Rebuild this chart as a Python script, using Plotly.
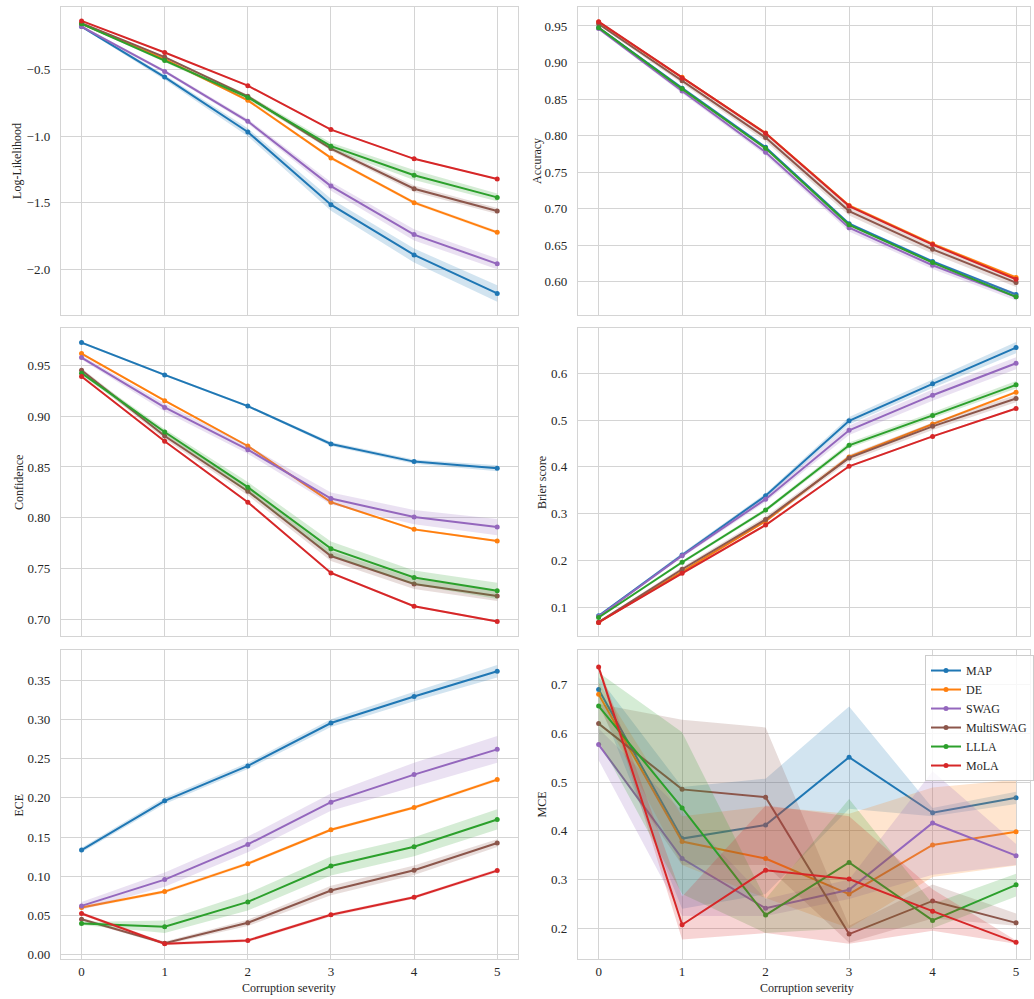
import plotly.graph_objects as go
from plotly.subplots import make_subplots

# ---------------- data ----------------
SEVERITY = [0, 1, 2, 3, 4, 5]
METHODS = ["MAP", "DE", "SWAG", "MultiSWAG", "LLLA", "MoLA"]
COLORS = {"MAP": "#1f77b4", "DE": "#ff7f0e", "SWAG": "#9467bd",
          "MultiSWAG": "#8c564b", "LLLA": "#2ca02c", "MoLA": "#d62728"}

# Log-likelihood
LL_MEAN = {
    "MAP": [-0.175, -0.555, -0.968, -1.515, -1.893, -2.182],
    "DE": [-0.155, -0.420, -0.730, -1.163, -1.500, -1.723],
    "SWAG": [-0.175, -0.513, -0.888, -1.375, -1.740, -1.960],
    "MultiSWAG": [-0.150, -0.405, -0.700, -1.093, -1.395, -1.563],
    "LLLA": [-0.155, -0.430, -0.708, -1.075, -1.293, -1.460],
    "MoLA": [-0.133, -0.370, -0.620, -0.950, -1.170, -1.322],
}
LL_LO = {
    "MAP": [-0.185, -0.575, -1.000, -1.560, -1.950, -2.245],
    "DE": [-0.160, -0.428, -0.740, -1.175, -1.512, -1.735],
    "SWAG": [-0.182, -0.525, -0.905, -1.410, -1.785, -2.000],
    "MultiSWAG": [-0.155, -0.412, -0.712, -1.110, -1.420, -1.585],
    "LLLA": [-0.160, -0.440, -0.725, -1.100, -1.330, -1.490],
    "MoLA": [-0.137, -0.375, -0.625, -0.956, -1.176, -1.328],
}
LL_HI = {
    "MAP": [-0.165, -0.540, -0.940, -1.470, -1.845, -2.120],
    "DE": [-0.150, -0.412, -0.720, -1.152, -1.488, -1.711],
    "SWAG": [-0.168, -0.500, -0.870, -1.345, -1.700, -1.920],
    "MultiSWAG": [-0.145, -0.398, -0.688, -1.076, -1.370, -1.540],
    "LLLA": [-0.150, -0.420, -0.690, -1.050, -1.255, -1.430],
    "MoLA": [-0.129, -0.365, -0.615, -0.944, -1.164, -1.316],
}

# Accuracy
ACC_MEAN = {
    "MAP": [0.9477, 0.865, 0.784, 0.6795, 0.628, 0.5827],
    "DE": [0.9555, 0.880, 0.8036, 0.7045, 0.652, 0.606],
    "SWAG": [0.9464, 0.861, 0.7773, 0.674, 0.6227, 0.5795],
    "MultiSWAG": [0.9527, 0.875, 0.7973, 0.6968, 0.6445, 0.599],
    "LLLA": [0.9477, 0.864, 0.7827, 0.678, 0.6264, 0.5795],
    "MoLA": [0.9559, 0.879, 0.8032, 0.7036, 0.651, 0.6036],
}
ACC_ERR = {
    "MAP": [0.001, 0.002, 0.002, 0.002, 0.002, 0.002],
    "DE": [0.001, 0.001, 0.001, 0.002, 0.002, 0.002],
    "SWAG": [0.002, 0.003, 0.004, 0.005, 0.005, 0.005],
    "MultiSWAG": [0.002, 0.004, 0.005, 0.006, 0.006, 0.006],
    "LLLA": [0.001, 0.001, 0.001, 0.001, 0.001, 0.001],
    "MoLA": [0.001, 0.001, 0.001, 0.001, 0.001, 0.001],
}

# Confidence
CONF_MEAN = {
    "MAP": [0.9726, 0.9408, 0.910, 0.8727, 0.8553, 0.8488],
    "DE": [0.9618, 0.9153, 0.8707, 0.8153, 0.7885, 0.777],
    "SWAG": [0.9579, 0.9087, 0.8671, 0.8189, 0.8006, 0.7908],
    "MultiSWAG": [0.9454, 0.8805, 0.8261, 0.7622, 0.7347, 0.7229],
    "LLLA": [0.9425, 0.8845, 0.8301, 0.7695, 0.741, 0.7279],
    "MoLA": [0.9392, 0.8753, 0.8153, 0.7456, 0.7128, 0.6977],
}
CONF_ERR = {
    "MAP": [0.001, 0.001, 0.001, 0.002, 0.002, 0.003],
    "DE": [0.001, 0.001, 0.001, 0.001, 0.001, 0.001],
    "SWAG": [0.002, 0.004, 0.004, 0.006, 0.007, 0.008],
    "MultiSWAG": [0.002, 0.003, 0.004, 0.005, 0.005, 0.005],
    "LLLA": [0.002, 0.003, 0.005, 0.007, 0.007, 0.008],
    "MoLA": [0.001, 0.001, 0.001, 0.001, 0.001, 0.001],
}

# Brier score
BRIER_MEAN = {
    "MAP": [0.0815, 0.2115, 0.338, 0.4984, 0.5773, 0.6547],
    "DE": [0.0673, 0.176, 0.284, 0.421, 0.4913, 0.5595],
    "SWAG": [0.080, 0.210, 0.3308, 0.478, 0.553, 0.6213],
    "MultiSWAG": [0.068, 0.181, 0.2875, 0.419, 0.4864, 0.546],
    "LLLA": [0.078, 0.196, 0.3074, 0.4459, 0.5098, 0.5751],
    "MoLA": [0.0673, 0.1724, 0.2754, 0.4011, 0.465, 0.5247],
}
BRIER_ERR = {
    "MAP": [0.002, 0.004, 0.005, 0.008, 0.009, 0.012],
    "DE": [0.002, 0.002, 0.003, 0.003, 0.003, 0.003],
    "SWAG": [0.002, 0.004, 0.006, 0.010, 0.012, 0.013],
    "MultiSWAG": [0.002, 0.005, 0.006, 0.007, 0.008, 0.008],
    "LLLA": [0.002, 0.003, 0.004, 0.006, 0.007, 0.008],
    "MoLA": [0.001, 0.002, 0.002, 0.002, 0.002, 0.002],
}

# ECE
ECE_MEAN = {
    "MAP": [0.1334, 0.1963, 0.2409, 0.2957, 0.3297, 0.3619],
    "DE": [0.0599, 0.0803, 0.116, 0.1593, 0.1878, 0.2234],
    "SWAG": [0.062, 0.0956, 0.1406, 0.1946, 0.2298, 0.2621],
    "MultiSWAG": [0.045, 0.0144, 0.0404, 0.0816, 0.1075, 0.1423],
    "LLLA": [0.0395, 0.0353, 0.0671, 0.113, 0.1376, 0.1725],
    "MoLA": [0.0523, 0.0136, 0.0178, 0.0506, 0.0731, 0.1071],
}
ECE_ERR = {
    "MAP": [0.003, 0.004, 0.004, 0.005, 0.006, 0.008],
    "DE": [0.002, 0.002, 0.002, 0.002, 0.002, 0.002],
    "SWAG": [0.005, 0.009, 0.010, 0.011, 0.015, 0.017],
    "MultiSWAG": [0.002, 0.002, 0.004, 0.006, 0.006, 0.005],
    "LLLA": [0.002, 0.008, 0.011, 0.012, 0.012, 0.013],
    "MoLA": [0.002, 0.002, 0.002, 0.002, 0.002, 0.002],
}

# MCE
MCE_MEAN = {
    "MAP": [0.690, 0.384, 0.412, 0.551, 0.437, 0.468],
    "DE": [0.680, 0.378, 0.343, 0.270, 0.371, 0.398],
    "SWAG": [0.577, 0.343, 0.241, 0.279, 0.416, 0.349],
    "MultiSWAG": [0.620, 0.485, 0.469, 0.188, 0.256, 0.211],
    "LLLA": [0.656, 0.447, 0.227, 0.335, 0.216, 0.289],
    "MoLA": [0.736, 0.207, 0.319, 0.301, 0.235, 0.171],
}
MCE_LO = {
    "MAP": [0.665, 0.240, 0.270, 0.445, 0.430, 0.455],
    "DE": [0.655, 0.330, 0.262, 0.200, 0.305, 0.329],
    "SWAG": [0.545, 0.225, 0.225, 0.260, 0.310, 0.330],
    "MultiSWAG": [0.580, 0.330, 0.330, 0.170, 0.220, 0.205],
    "LLLA": [0.585, 0.270, 0.190, 0.200, 0.200, 0.265],
    "MoLA": [0.730, 0.177, 0.190, 0.168, 0.195, 0.168],
}
MCE_HI = {
    "MAP": [0.715, 0.490, 0.507, 0.655, 0.447, 0.480],
    "DE": [0.705, 0.430, 0.450, 0.435, 0.489, 0.505],
    "SWAG": [0.610, 0.440, 0.260, 0.300, 0.522, 0.373],
    "MultiSWAG": [0.660, 0.628, 0.612, 0.205, 0.290, 0.230],
    "LLLA": [0.725, 0.602, 0.260, 0.465, 0.250, 0.312],
    "MoLA": [0.742, 0.265, 0.452, 0.430, 0.280, 0.175],
}

Y_TITLES = ["Log-Likelihood", "Accuracy", "Confidence", "Brier score", "ECE", "MCE"]
Y_TICKS = [
    [-0.5, -1.0, -1.5, -2.0],
    [0.60, 0.65, 0.70, 0.75, 0.80, 0.85, 0.90, 0.95],
    [0.70, 0.75, 0.80, 0.85, 0.90, 0.95],
    [0.1, 0.2, 0.3, 0.4, 0.5, 0.6],
    [0.00, 0.05, 0.10, 0.15, 0.20, 0.25, 0.30, 0.35],
    [0.2, 0.3, 0.4, 0.5, 0.6, 0.7],
]
Y_TICKTEXT = [
    ["\u22120.5", "\u22121.0", "\u22121.5", "\u22122.0"],
    ["0.60", "0.65", "0.70", "0.75", "0.80", "0.85", "0.90", "0.95"],
    ["0.70", "0.75", "0.80", "0.85", "0.90", "0.95"],
    ["0.1", "0.2", "0.3", "0.4", "0.5", "0.6"],
    ["0.00", "0.05", "0.10", "0.15", "0.20", "0.25", "0.30", "0.35"],
    ["0.2", "0.3", "0.4", "0.5", "0.6", "0.7"],
]
Y_RANGES = [
    [-2.345, -0.028],
    [0.5546, 0.976],
    [0.6833, 0.987],
    [0.0382, 0.6966],
    [-0.006, 0.389],
    [0.1366, 0.771],
]
X_TICKS = [0, 1, 2, 3, 4, 5]


def sym(mean, err):
    lo = {m: [a - e for a, e in zip(mean[m], err[m])] for m in mean}
    hi = {m: [a + e for a, e in zip(mean[m], err[m])] for m in mean}
    return lo, hi


ACC_LO, ACC_HI = sym(ACC_MEAN, ACC_ERR)
CONF_LO, CONF_HI = sym(CONF_MEAN, CONF_ERR)
BRIER_LO, BRIER_HI = sym(BRIER_MEAN, BRIER_ERR)
ECE_LO, ECE_HI = sym(ECE_MEAN, ECE_ERR)

PANELS = [
    (LL_MEAN, LL_LO, LL_HI),
    (ACC_MEAN, ACC_LO, ACC_HI),
    (CONF_MEAN, CONF_LO, CONF_HI),
    (BRIER_MEAN, BRIER_LO, BRIER_HI),
    (ECE_MEAN, ECE_LO, ECE_HI),
    (MCE_MEAN, MCE_LO, MCE_HI),
]


def rgba(hex_color, a):
    h = hex_color.lstrip("#")
    return "rgba(%d,%d,%d,%.2f)" % (int(h[0:2], 16), int(h[2:4], 16), int(h[4:6], 16), a)


# ---------------- figure ----------------
W, H = 1034, 999
fig = make_subplots(rows=3, cols=2)

for i, (mean, lo, hi) in enumerate(PANELS):
    row, col = i // 2 + 1, i % 2 + 1
    for m in METHODS:
        c = COLORS[m]
        fig.add_trace(go.Scatter(
            x=SEVERITY + SEVERITY[::-1], y=hi[m] + lo[m][::-1],
            fill="toself", fillcolor=rgba(c, 0.2), line=dict(width=0),
            mode="lines", hoverinfo="skip", showlegend=False, legendgroup=m),
            row=row, col=col)
        fig.add_trace(go.Scatter(
            x=SEVERITY, y=mean[m], mode="lines+markers", name=m,
            line=dict(color=c, width=2), marker=dict(color=c, size=5),
            showlegend=(i == 5), legendgroup=m),
            row=row, col=col)

# pixel-based layout
col_px = [(61, 520), (580, 1034)]
row_px = [(7, 316), (329, 638), (652, 962)]
x_ranges = [[-0.25, 5.25], [-0.25, 5.167]]

FONT = "Liberation Serif"
GRID = "#d4d4d4"
TXT = "#262626"

for i in range(6):
    r, c = i // 2, i % 2
    suffix = "" if i == 0 else str(i + 1)
    x0, x1 = col_px[c]
    t, b = row_px[r]
    fig.layout["xaxis" + suffix].update(
        domain=[x0 / W, x1 / W], range=x_ranges[c],
        tickvals=X_TICKS, showticklabels=(r == 2), ticks="",
        showgrid=True, gridcolor=GRID, gridwidth=1,
        showline=True, mirror=True, linecolor=GRID, linewidth=1,
        zeroline=False, tickfont=dict(family=FONT, size=13, color=TXT),
        ticklabelstandoff=0)
    fig.layout["yaxis" + suffix].update(
        domain=[1 - b / H, 1 - t / H], range=Y_RANGES[i],
        tickvals=Y_TICKS[i], ticktext=Y_TICKTEXT[i], ticks="",
        showgrid=True, gridcolor=GRID, gridwidth=1,
        showline=True, mirror=True, linecolor=GRID, linewidth=1,
        zeroline=False, tickfont=dict(family=FONT, size=13, color=TXT),
        ticklabelstandoff=7)

annotations = []
ytitle_x = [17, 539, 19, 544, 19, 544]
for i, title in enumerate(Y_TITLES):
    r = i // 2
    t, b = row_px[r]
    annotations.append(dict(
        text=title, xref="paper", yref="paper",
        x=ytitle_x[i] / W, y=1 - (t + b) / 2 / H,
        xanchor="center", yanchor="middle", textangle=-90, showarrow=False,
        font=dict(family=FONT, size=12, color=TXT)))
for cx in [290, 810]:
    annotations.append(dict(
        text="Corruption severity", xref="paper", yref="paper",
        x=cx / W, y=1 - 991 / H, xanchor="center", yanchor="middle",
        showarrow=False, font=dict(family=FONT, size=12, color=TXT)))

fig.update_layout(
    width=W, height=H, margin=dict(l=0, r=0, t=0, b=0),
    paper_bgcolor="white", plot_bgcolor="white",
    font=dict(family=FONT, size=12, color=TXT),
    annotations=annotations,
    legend=dict(x=929 / W, y=1 - 657 / H, xanchor="left", yanchor="top",
                bgcolor="rgba(255,255,255,0.8)", bordercolor="#cccccc",
                borderwidth=1, font=dict(family=FONT, size=12, color=TXT),
                tracegroupgap=0, itemwidth=30),
)

fig.write_html("out.html", config={"displayModeBar": False},
               post_script="document.body.style.margin='0';document.body.style.overflow='hidden';")
